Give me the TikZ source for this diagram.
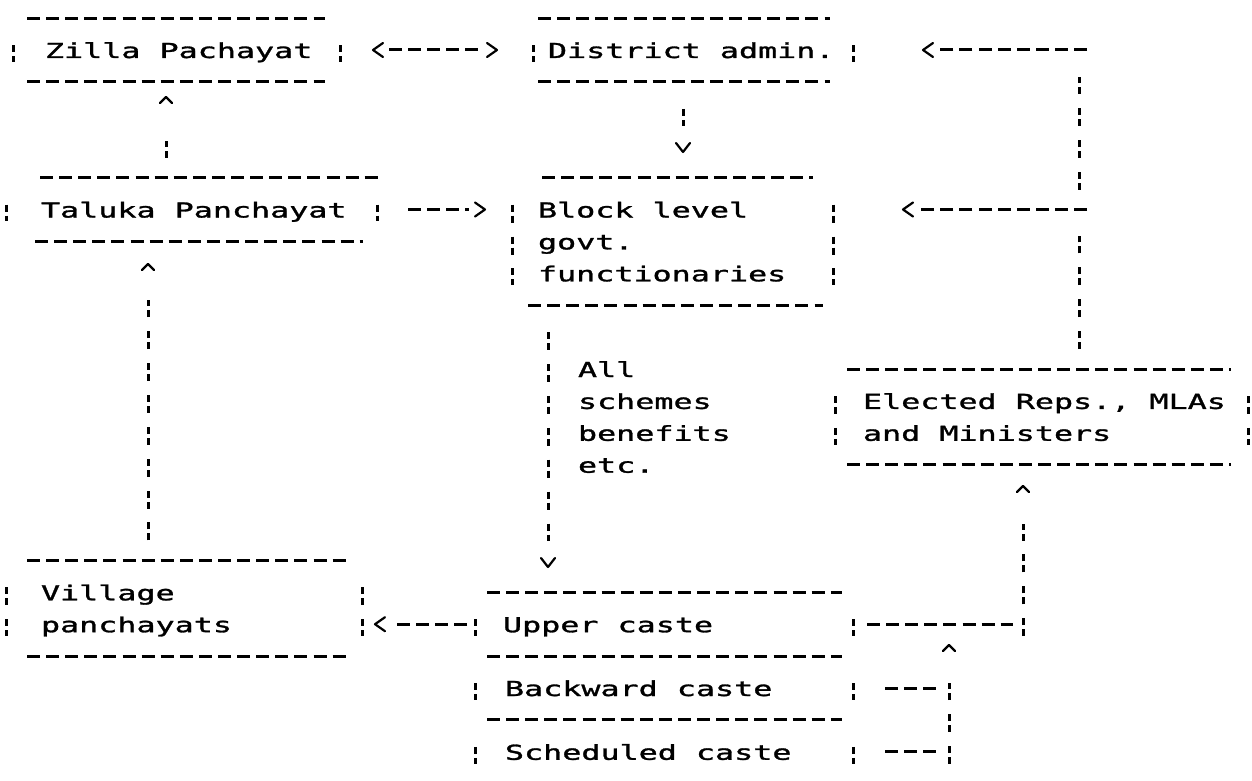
\documentclass[tikz,border=0pt]{standalone}
\usepackage{fontspec}
\usetikzlibrary{arrows.meta}
\newfontfamily\dotmatrix{DejaVu Sans Mono}[FakeStretch=1.54, FakeBold=1.4]

% open chevron tip that leaves a gap (the inset) between shaft and tip
\newdimen\chevtip
\pgfdeclarearrow{
  name = Chev,
  parameters = {\the\pgfarrowlength,\the\pgfarrowwidth,\the\pgfarrowinset},
  setup code = {
    \chevtip=\pgfarrowlength
    \advance\chevtip by \pgfarrowinset
    \pgfarrowssettipend{\chevtip}
    \pgfarrowssetlineend{0pt}
    \pgfarrowssetbackend{0pt}
    \pgfarrowssavethe\pgfarrowlength
    \pgfarrowssavethe\pgfarrowwidth
    \pgfarrowssavethe\pgfarrowinset
  },
  drawing code = {
    \pgfsetdash{}{0pt}
    \pgfsetroundjoin
    \pgfsetroundcap
    \pgfsetlinewidth{2.2pt}
    \chevtip=\pgfarrowlength
    \advance\chevtip by \pgfarrowinset
    \pgfpathmoveto{\pgfpoint{\pgfarrowinset}{.5\pgfarrowwidth}}
    \pgfpathlineto{\pgfpoint{\chevtip}{0pt}}
    \pgfpathlineto{\pgfpoint{\pgfarrowinset}{-.5\pgfarrowwidth}}
    \pgfusepathqstroke
  },
  defaults = {length=10pt, width=14pt, inset=6pt}
}

% printer text: every character, space included, takes one 19.1pt cell
\newcommand\dmfont{\dotmatrix\fontsize{20.6}{31.9}\selectfont\frenchspacing}

\tikzset{
  box/.style={draw=none, inner sep=0pt, outer sep=0pt, anchor=north west},
  boxtext/.style={font=\dmfont, anchor=base west, inner sep=0pt, outer sep=0pt,
    text width=420pt, align=left,
    execute at begin node={\spaceskip=19.1pt plus 0pt minus 0pt\relax
      \xspaceskip=19.1pt plus 0pt minus 0pt\relax}},
  hdash/.style={line width=3pt, dash pattern=on 13pt off 6.1pt},
  vbar/.style={line width=3pt, dash pattern=on 7pt off 4pt on 7pt off 13.9pt},
  hchev/.tip={Chev[length=10pt,width=14pt,inset=6pt]},
  upto/.style={arrows={-{Chev[length=6pt,width=12pt,inset=#1]}}},
  downto/.style={arrows={-{Chev[length=9pt,width=14pt,inset=17.3pt]}}},
}

\begin{document}
\begin{tikzpicture}[x=1pt,y=-1pt]
\path[fill=white] (0,0) rectangle (1252,781);
\useasboundingbox (0,0) rectangle (1252,781);

% boxes (west bar, top rule) with their sizes
\node[box, minimum width=327pt, minimum height=63.8pt] (zilla)    at (13,18.1)  {};
\node[box, minimum width=320pt, minimum height=63.8pt] (district) at (533,18.1) {};
\node[box, minimum width=371pt, minimum height=63.8pt] (taluka)   at (6,177.6)  {};
\node[box, minimum width=321pt, minimum height=127.6pt] (block)   at (512,177.6) {};
\node[box, minimum width=413pt, minimum height=95.7pt] (elected)  at (835,369)  {};
\node[box, minimum width=356pt, minimum height=95.7pt] (village)  at (6,560.4)  {};
\node[box, minimum width=378pt, minimum height=63.8pt] (upper)    at (475,592.3) {};
\node[box, minimum width=378pt, minimum height=63.8pt] (backward) at (475,656.1) {};
\node[box, minimum width=378pt, minimum height=63.8pt] (sched)    at (475,719.9) {};

% box texts
\node[boxtext] (zilla-t)    at ([shift={(32,39.9)}]zilla.north west)    {Zilla Pachayat};
\node[boxtext] (district-t) at ([shift={(15,39.9)}]district.north west) {District admin.};
\node[boxtext] (taluka-t)   at ([shift={(35,39.9)}]taluka.north west)   {Taluka Panchayat};
\node[boxtext] (block-t)    at ([shift={(26,39.9)}]block.north west)    {Block level\\govt.\\functionaries};
\node[boxtext] (elected-t)  at ([shift={(28,39.9)}]elected.north west)  {Elected Reps., MLAs\\and Ministers};
\node[boxtext] (village-t)  at ([shift={(35,39.9)}]village.north west)  {Village\\panchayats};
\node[boxtext] (upper-t)    at ([shift={(28,39.9)}]upper.north west)    {Upper caste};
\node[boxtext] (backward-t) at ([shift={(30,39.9)}]backward.north west) {Backward caste};
\node[boxtext] (sched-t)    at ([shift={(30,39.9)}]sched.north west)    {Scheduled caste};

% top rules
\foreach \n/\l/\r in {zilla/14/15, district/5/23, taluka/34/-5, block/30/20,
                      elected/12/17, village/21/15, upper/12/11}
  \draw[hdash] ([xshift=\l pt]\n.north west) -- ([xshift=-\r pt]\n.north east);
% bottom rules
\foreach \n/\l/\r in {zilla/14/15, district/5/23, taluka/29/14, block/16/10,
                      elected/12/17, village/21/15, upper/12/11, backward/12/11}
  \draw[hdash] ([xshift=\l pt]\n.south west) -- ([xshift=-\r pt]\n.south east);
% side bars
\foreach \n in {zilla,district,taluka,block,elected,village,upper,backward,sched} {
  \draw[vbar] ([yshift=-27pt]\n.north west) -- ([yshift=20pt]\n.south west);
  \draw[vbar] ([yshift=-27pt]\n.north east) -- ([yshift=20pt]\n.south east);
}

% junctions and connector lanes
\coordinate (jtop) at (1079,50);
\coordinate (jmid) at (1079,209.5);
\coordinate (jlow) at (1023,636.2);
\coordinate (jbs)  at (949,763.8);
\coordinate (xz) at (166,0);
\coordinate (xv) at (148,0);
\coordinate (xd) at (683,0);
\coordinate (xb) at (548,0);

% Zilla <-> District
\draw[hdash, {hchev}-{hchev}, shorten <=33pt, shorten >=36pt] (zilla.east) -- (district.west);
% District -> Block
\draw[vbar, downto, shorten <=26.9pt, shorten >=25.6pt] (district.south -| xd) -- (block.north -| xd);
% Taluka -> Zilla
\draw[vbar, upto=37.7pt, shorten <=19.9pt, shorten >=15.1pt] (taluka.north -| xz) -- (zilla.south -| xz);
% Taluka -> Block
\draw[hdash, -{hchev}, shorten <=31pt, shorten >=27pt] (taluka.east) -- (taluka.east -| block.west);
% Village -> Taluka
\draw[vbar, upto=30.2pt, shorten <=20pt, shorten >=22.6pt] (village.north -| xv) -- (taluka.south -| xv);
% Block -> castes
\draw[vbar, downto, shorten <=26.9pt, shorten >=25.3pt] (block.south -| xb) -- (upper.north -| xb);
\node[boxtext] (flow) at (578,377) {All\\schemes\\benefits\\etc.};
% Upper caste -> Village
\draw[hdash, -{hchev}, shorten <=8pt, shorten >=13pt] (upper.west) -- (upper.west -| village.east);
% Upper caste -> Elected
\draw[hdash, shorten <=14pt, shorten >=10pt] (upper.east) -- (upper.east -| jlow);
\draw[vbar, upto=31.5pt, shorten >=21.3pt] (jlow) -- (jlow |- elected.south);
% Backward / Scheduled caste -> Upper caste lane
\draw[hdash, shorten <=32pt, shorten >=11pt] (backward.east) -- (backward.east -| jbs);
\draw[hdash, shorten <=32pt, shorten >=11pt] (sched.east) -- (sched.east -| jbs);
\draw[vbar, upto=32pt, shorten >=20.8pt] (jbs) -- (jbs |- upper.east);
% Elected -> District, Block
\draw[vbar, shorten <=20pt, shorten >=26.9pt] (elected.north -| jmid) -- (jmid);
\draw[vbar, shorten <=19.9pt, shorten >=26.9pt] (jmid) -- (jtop);
\draw[hdash, -{hchev}, shorten >=70pt] ([xshift=8pt]jtop) -- (jtop -| district.east);
\draw[hdash, -{hchev}, shorten >=70pt] ([xshift=8pt]jmid) -- (jmid -| block.east);
\end{tikzpicture}
\end{document}
